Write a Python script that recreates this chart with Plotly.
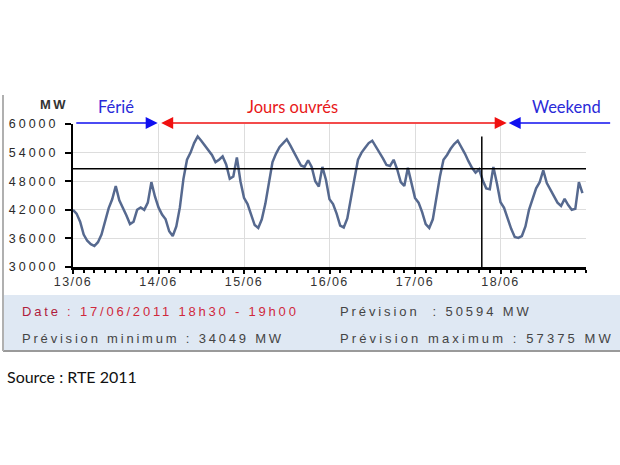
import pandas as pd
import plotly.graph_objects as go

# hourly consumption forecast (MW)
day_13 = [42000, 41200, 39500, 36800, 35500, 34800, 34400, 35200, 36800, 39700, 42300, 44200,
          47000, 44000, 42500, 40800, 39000, 39500, 42000, 42500, 42000, 43500, 47800, 44800]
day_14 = [42500, 41000, 40000, 37500, 36500, 38500, 42500, 48500, 52500, 54000, 56000, 57375,
          56500, 55500, 54500, 53500, 52000, 52500, 53200, 51500, 48500, 49000, 53000, 48000]
day_15 = [44500, 43200, 41000, 38800, 38200, 40000, 43300, 48000, 52000, 53800, 55200, 56000,
          56800, 55500, 54200, 52700, 51300, 51000, 52400, 51000, 48000, 46900, 51000, 48300]
day_16 = [44200, 43200, 41200, 38700, 38300, 40200, 44000, 48500, 52500, 54000, 55000, 56000,
          56500, 55300, 54200, 52800, 51400, 51200, 52500, 50500, 47800, 47000, 50800, 47500]
day_17 = [44500, 43500, 41500, 39000, 38200, 40000, 44500, 49000, 52500, 53500, 54800, 55800,
          56500, 55200, 53800, 52200, 50800, 49800, 50500, 48200, 46500, 46300, 51000, 47500]
day_18 = [43600, 42400, 40200, 38000, 36300, 36100, 36500, 38500, 42000, 44500, 46500, 47800,
          50300, 47600, 46200, 44800, 43500, 42800, 44300, 43000, 42000, 42200, 47800, 45500]

load_mw = day_13 + day_14 + day_15 + day_16 + day_17 + day_18
times = pd.date_range("2011-06-13 00:00", periods=len(load_mw), freq="h")

forecast_time = pd.Timestamp("2011-06-17 18:45")
forecast_mw = 50594
min_mw = 34049
max_mw = 57375

y_ticks = [30000, 36000, 42000, 48000, 54000, 60000]
x_ticks = pd.date_range("2011-06-13", "2011-06-18", freq="D")
x_labels = ["13/06", "14/06", "15/06", "16/06", "17/06", "18/06"]

W, H = 620, 465
L, R, T, B = 73, 34, 124, 198


def px(x):
    return (x - L) / (W - L - R)


def py(y):
    return (H - B - y) / (H - T - B)


def spaced(s, ls):
    return '<span style="letter-spacing:%spx">%s</span>' % (ls, s)


fig = go.Figure()
fig.add_trace(go.Scatter(x=times, y=load_mw, mode="lines",
                         line=dict(color="#56698f", width=2.5), hoverinfo="skip"))

fig.update_layout(
    width=W, height=H, showlegend=False,
    margin=dict(l=L, r=R, t=T, b=B),
    paper_bgcolor="white", plot_bgcolor="white",
    font=dict(family="Liberation Sans, Arial", color="#333333"),
)
fig.update_xaxes(
    range=[pd.Timestamp("2011-06-13"), pd.Timestamp("2011-06-19")],
    tickvals=x_ticks, ticktext=[spaced(t, 1.4) for t in x_labels],
    tickfont=dict(size=12.5, color="#333333"), ticklabelstandoff=-3,
    showgrid=True, gridcolor="#dddddd", gridwidth=1,
    showline=True, linecolor="black", linewidth=2.5,
    ticks="outside", ticklen=4, tickcolor="black", tickwidth=1.5,
    minor=dict(dtick=3 * 3600 * 1000, ticks="outside", ticklen=3, tickcolor="black", showgrid=False),
    zeroline=False, automargin=False,
)
fig.update_yaxes(
    range=[30000, 60000],
    tickvals=y_ticks, ticktext=[spaced(str(v), 3) for v in y_ticks],
    tickfont=dict(size=12.5, color="#2a2a2a"), ticklabelstandoff=4,
    showgrid=True, gridcolor="#dddddd", gridwidth=1,
    showline=True, linecolor="black", linewidth=2,
    ticks="outside", ticklen=6, tickcolor="black", tickwidth=1.5,
    zeroline=False, automargin=False,
)

# frame and info panel
fig.add_shape(type="rect", xref="paper", yref="paper",
              x0=px(3), x1=px(625), y0=py(351), y1=py(295),
              fillcolor="#dfe8f3", line=dict(width=0), layer="below")
fig.add_shape(type="line", xref="paper", yref="paper",
              x0=px(3), x1=px(625), y0=py(351), y1=py(351),
              line=dict(color="#9a9a9a", width=2))
fig.add_shape(type="line", xref="paper", yref="paper",
              x0=px(3), x1=px(3), y0=py(95), y1=py(351),
              line=dict(color="#b0b0b0", width=2))

# forecast crosshair
fig.add_shape(type="line", xref="paper", yref="y", x0=0, x1=1,
              y0=forecast_mw, y1=forecast_mw, line=dict(color="black", width=1.5))
fig.add_shape(type="line", xref="x", yref="y", x0=forecast_time, x1=forecast_time,
              y0=30000, y1=max_mw, line=dict(color="black", width=1.5))

# period arrows
arrows = [
    ("2011-06-13 00:30", "2011-06-13 23:46", "#1010f0", "end"),
    ("2011-06-14 00:20", "2011-06-18 01:44", "#f01010", "end+start"),
    ("2011-06-19 07:12", "2011-06-18 02:18", "#1010f0", "end"),
]
for tail, head, col, side in arrows:
    fig.add_annotation(x=pd.Timestamp(head), y=py(123), ax=pd.Timestamp(tail), ay=0,
                       xref="x", yref="paper", axref="x", ayref="pixel", text="",
                       showarrow=True, arrowhead=2, arrowsize=1.6, arrowwidth=1.5,
                       arrowcolor=col, arrowside=side, standoff=0, startstandoff=0)


def note(text, x, y, font, xanchor="center"):
    fig.add_annotation(x=px(x), y=py(y), xref="paper", yref="paper", text=text,
                       xanchor=xanchor, yanchor="middle", showarrow=False, font=font)


label_font = "Lato, Open Sans, sans-serif"
for txt, x, col in [("Férié", 116, "#2a2ad8"), ("Jours ouvrés", 292, "#e81818"),
                    ("Weekend", 566, "#2a2ad8")]:
    note(txt, x, 107, dict(family=label_font, size=16.5, color=col))

note(spaced("<b>MW</b>", 2.5), 54, 104, dict(size=13, color="#333333"))

panel_font = dict(size=13, color="#444444")
note(spaced('<span style="color:#b01c3c">Date</span> : '
            '<span style="color:#d0283c">17/06/2011 18h30 - 19h00</span>', 2.8),
     20, 311, dict(size=13, color="#d0283c"), "left")
note(spaced("Prévision  : %d MW" % forecast_mw, 2.9), 338, 311, panel_font, "left")
note(spaced("Prévision minimum : %d MW" % min_mw, 2.8), 20, 338, panel_font, "left")
note(spaced("Prévision maximum : %d MW" % max_mw, 3.1), 338, 338, panel_font, "left")

note("Source : RTE 2011", 5, 376, dict(family=label_font, size=16, color="#111111"), "left")

# the page is photographed at exactly the figure size, so drop the default body margin
fig.write_html("out.html", config={"displayModeBar": False},
               post_script="document.body.style.margin='0px';")
